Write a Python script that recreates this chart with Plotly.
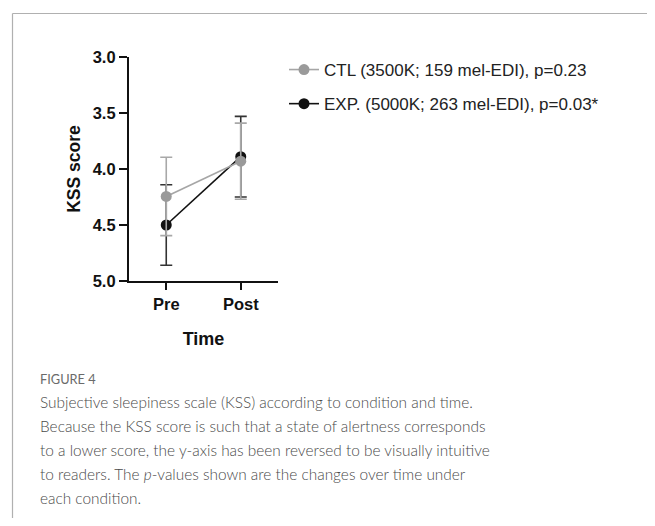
import plotly.graph_objects as go

# ---- data ----
time_labels = ["Pre", "Post"]
ctl_name = "CTL (3500K; 159 mel-EDI), p=0.23"
exp_name = "EXP. (5000K; 263 mel-EDI), p=0.03*"
ctl_mean = [4.245, 3.93]
ctl_err = [0.35, 0.34]
exp_mean = [4.50, 3.89]
exp_err = [0.36, 0.36]
y_ticks = [3.0, 3.5, 4.0, 4.5, 5.0]
y_tick_text = ["3.0", "3.5", "4.0", "4.5", "5.0"]
caption_head = "FIGURE 4"
caption_lines = [
    "Subjective sleepiness scale (KSS) according to condition and time.",
    "Because the KSS score is such that a state of alertness corresponds",
    "to a lower score, the y-axis has been reversed to be visually intuitive",
    "to readers. The <i>p</i>-values shown are the changes over time under",
    "each condition.",
]

OFF = 8  # browser body margin
W, H = 655 - 2 * OFF, 526 - 2 * OFF
L, R, T, B = 129 - OFF, 278 - OFF, 57 - OFF, 281 - OFF  # plot area in figure pixels


def px(x):
    return (x - OFF - L) / (R - L)


def py(y):
    return (B - (y - OFF)) / (B - T)


fig = go.Figure()
x_idx = [0, 1]

fig.add_trace(go.Scatter(
    x=x_idx, y=exp_mean, name=exp_name, mode="lines+markers",
    line=dict(color="#111111", width=1.6),
    marker=dict(color="#111111", size=11),
    error_y=dict(type="data", array=exp_err, color="#333333", thickness=1.6, width=6),
    legendrank=2, legendgroup="b",
))
fig.add_trace(go.Scatter(
    x=x_idx, y=ctl_mean, name=ctl_name, mode="lines+markers",
    line=dict(color="#a6a6a6", width=1.6),
    marker=dict(color="#9a9a9a", size=11),
    error_y=dict(type="data", array=ctl_err, color="#a8a8a8", thickness=1.6, width=6),
    legendrank=1, legendgroup="a",
))

fam = "Liberation Sans, Arial, sans-serif"

fig.update_xaxes(
    range=[-0.5, 1.5], tickmode="array", tickvals=x_idx, ticktext=["<b>%s</b>" % t for t in time_labels],
    showline=True, linecolor="#111111", linewidth=2.2, showgrid=False, zeroline=False,
    ticks="outside", ticklen=7, tickwidth=2.2, tickcolor="#111111",
    tickfont=dict(family=fam, size=16.5, color="#111111"),
    title=dict(text="<b>Time</b>", font=dict(family=fam, size=18, color="#111111"), standoff=20),
)
fig.update_yaxes(
    range=[5.0, 3.0], tickmode="array", tickvals=y_ticks, ticktext=["<b>%s</b>" % t for t in y_tick_text],
    showline=True, linecolor="#111111", linewidth=2.2, showgrid=False, zeroline=False,
    ticks="outside", ticklen=8, tickwidth=2.2, tickcolor="#111111",
    tickfont=dict(family=fam, size=16.5, color="#111111"),
    title=dict(text="<b>KSS score</b>", font=dict(family=fam, size=17.5, color="#111111"), standoff=8),
)

annotations = []
annotations.append(dict(
    x=px(38), y=py(379), xref="paper", yref="paper", xanchor="left", yanchor="middle",
    text=caption_head, showarrow=False,
    font=dict(family="Lato, sans-serif", size=12.8, color="#6a6a6a"),
))
for i, line in enumerate(caption_lines):
    annotations.append(dict(
        x=px(38), y=py(402 + 24 * i), xref="paper", yref="paper", xanchor="left", yanchor="middle",
        text=line, showarrow=False,
        font=dict(family="Lato, sans-serif", size=15.4, color="#4a4a4a", weight=300),
    ))

shapes = [
    dict(type="line", xref="paper", yref="paper", x0=px(12.5), x1=px(700), y0=py(13.5), y1=py(13.5),
         line=dict(color="#b0b0b0", width=1.2)),
    dict(type="line", xref="paper", yref="paper", x0=px(12.5), x1=px(12.5), y0=py(13.5), y1=py(560),
         line=dict(color="#b0b0b0", width=1.2)),
]

fig.update_layout(
    width=W, height=H,
    margin=dict(l=L, r=W - R, t=T, b=H - B, autoexpand=False),
    paper_bgcolor="white", plot_bgcolor="white",
    showlegend=True,
    legend=dict(
        x=px(284), y=py(52), xanchor="left", yanchor="top",
        font=dict(family=fam, size=17, color="#222222"),
        traceorder="grouped", tracegroupgap=9, itemwidth=30, bgcolor="rgba(0,0,0,0)",
    ),
    annotations=annotations,
    shapes=shapes,
)

fig.write_html("out.html")
